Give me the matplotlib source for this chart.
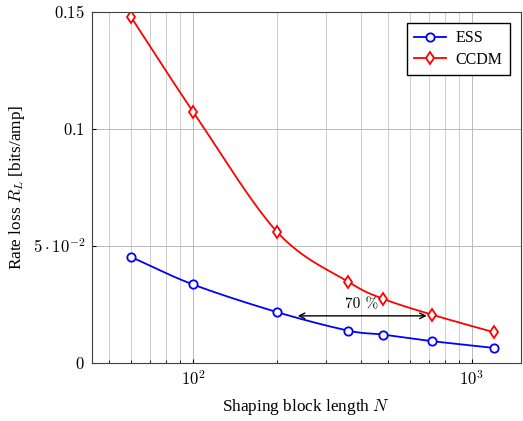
import matplotlib
matplotlib.use("Agg")
import matplotlib.pyplot as plt
import numpy as np

# data
N = [60, 100, 200, 360, 480, 720, 1200]
ess = [0.0452, 0.0335, 0.0217, 0.0138, 0.0121, 0.0093, 0.0064]
ccdm = [0.1476, 0.1073, 0.0560, 0.0347, 0.0274, 0.0206, 0.0131]

yticks = [0, 0.05, 0.1, 0.15]
yticklabels = [r'$0$', r'$5\cdot10^{-2}$', r'$0.1$', r'$0.15$']

plt.rcParams['font.family'] = ['Liberation Serif', 'DejaVu Serif']
plt.rcParams['mathtext.fontset'] = 'cm'


def smooth(x, y, n=40, t=0.5):
    # cardinal spline in (log x, y) for a smooth drawn line
    lx = np.log10(x)
    y = np.asarray(y)
    px = np.concatenate([[2*lx[0]-lx[1]], lx, [2*lx[-1]-lx[-2]]])
    py = np.concatenate([[2*y[0]-y[1]], y, [2*y[-1]-y[-2]]])
    xs, ys = [], []
    for i in range(1, len(px)-2):
        s = np.linspace(0, 1, n)
        m1x = t*(px[i+1]-px[i-1]); m2x = t*(px[i+2]-px[i])
        m1y = t*(py[i+1]-py[i-1]); m2y = t*(py[i+2]-py[i])
        h00 = 2*s**3-3*s**2+1; h10 = s**3-2*s**2+s
        h01 = -2*s**3+3*s**2; h11 = s**3-s**2
        xs.append(h00*px[i]+h10*m1x+h01*px[i+1]+h11*m2x)
        ys.append(h00*py[i]+h10*m1y+h01*py[i+1]+h11*m2y)
    return 10**np.concatenate(xs), np.concatenate(ys)


fig = plt.figure(figsize=(5.23, 4.21), dpi=100)
ax = fig.add_axes([0.176, 0.138, 0.82, 0.834])

ms = dict(markersize=6, markerfacecolor='white', markeredgewidth=1.3)

sx, sy = smooth(N, ess)
ax.plot(sx, sy, color='blue', lw=1.3)
ax.plot(N, ess, color='blue', lw=0, marker='o', **ms)
ax.plot([], [], color='blue', lw=1.3, marker='o', label='ESS', **ms)

sx, sy = smooth(N, ccdm)
ax.plot(sx, sy, color='red', lw=1.3)
ax.plot(N, ccdm, color='red', lw=0, marker='d', **ms)
ax.plot([], [], color='red', lw=1.3, marker='d', label='CCDM', **ms)

# arrow + text
ax.annotate('', xy=(232, 0.0201), xytext=(705, 0.0201),
            arrowprops=dict(arrowstyle='<->', color='black', lw=1.0))
ax.text(403, 0.0251, r'70 %', ha='center', va='center', fontsize=11,
        family='cmr10')

ax.set_xscale('log')
ax.set_xlim(43.4, 1500)
ax.set_ylim(0, 0.15)
ax.set_yticks(yticks)
ax.set_yticklabels(yticklabels)
ax.set_xticks([100, 1000])
ax.set_xticklabels([r'$10^2$', r'$10^3$'])

ax.grid(True, which='major', color='#b0b0b0', lw=0.6)
ax.grid(True, which='minor', axis='x', color='#c8c8c8', lw=0.6)
ax.set_axisbelow(True)
ax.tick_params(which='both', direction='in', labelsize=12, length=3)
ax.tick_params(which='minor', length=2)
ax.tick_params(axis='x', pad=5)
ax.tick_params(axis='y', pad=5)
ax.xaxis.set_minor_formatter(matplotlib.ticker.NullFormatter())
for s in ax.spines.values():
    s.set_color('#404040')

ax.set_xlabel(r'Shaping block length $N$', fontsize=12.4, labelpad=6)
ax.set_ylabel(r'Rate loss $R_L$ [bits/amp]', fontsize=12.4, labelpad=4)

ax.legend(loc='upper right', fontsize=11.5, fancybox=False, edgecolor='black',
          framealpha=1, borderaxespad=0.7, handlelength=2.0, labelspacing=0.35,
          borderpad=0.45, handletextpad=0.6)

fig.savefig('out.png', dpi=100)
